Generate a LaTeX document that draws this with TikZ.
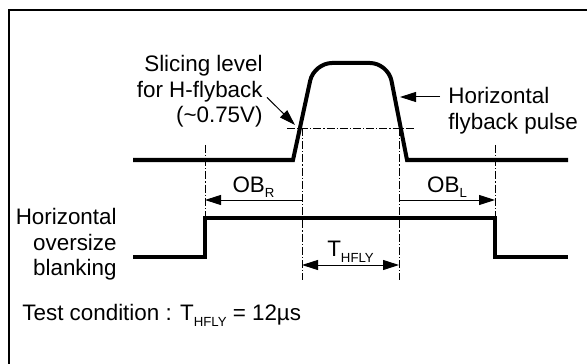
\documentclass[tikz,border=0pt]{standalone}
\usepackage{fontspec}
\setmainfont{Liberation Sans}
\usetikzlibrary{arrows.meta}
\newcommand{\lowsub}[2][3pt]{\raisebox{-#1}{\fontsize{6.6}{7}\selectfont #2}}
\tikzset{
  wave/.style={line width=2pt},
  guide/.style={line width=0.35pt, dash pattern=on 4pt off 1pt on 0.6pt off 1pt},
  dim/.style={line width=0.5pt, >={Triangle[length=8pt,width=5pt]}},
  lbl/.style={inner sep=0pt, font=\fontsize{11.2}{12.8}\selectfont}
}
\begin{document}
\begin{tikzpicture}[x=0.5pt,y=-0.5pt]
\useasboundingbox (0,0) rectangle (587,363);
\clip (0,0) rectangle (587,363);
% frame
\draw[line width=1.1pt] (9,380) -- (9,10) -- (600,10);

% flyback pulse
\coordinate (p0) at (133,160);
\coordinate (p1) at (293,160);
\coordinate (p2) at (314,63);
\coordinate (p3) at (388,63);
\coordinate (p4) at (407,160);
\coordinate (p5) at (568,160);
\draw[wave] (p0) -- (p1) [rounded corners=9pt] -- (p2) -- (p3) [sharp corners] -- (p4) -- (p5);

% oversize blanking
\coordinate (b0) at (133,257);
\coordinate (b1) at (205,257);
\coordinate (b2) at (205,218);
\coordinate (b3) at (495,218);
\coordinate (b4) at (495,257);
\coordinate (b5) at (568,257);
\draw[wave] (b0) -- (b1) -- (b2) -- (b3) -- (b4) -- (b5);

% slicing level and guides
\coordinate (s0) at (287,128);
\coordinate (s1) at (415,128);
\coordinate (sr) at (302,128);
\coordinate (sf) at (399,128);
\coordinate (gl) at (205,145);
\coordinate (gr) at (495,145);
\draw[guide] (s0) -- (s1);
\draw[guide] (sr) -- (302,280);
\draw[guide] (sf) -- (399,280);
\draw[guide] (gl) -- (b2);
\draw[guide] (gr) -- (b3);

% widths
\draw[dim,->] (302,200) -- (205,200) node[midway, lbl, anchor=base, yshift=4pt]{OB\lowsub[2.6pt]{R}};
\draw[dim,->] (399,200) -- (495,200) node[midway, lbl, anchor=base, yshift=4pt]{OB\lowsub[2.6pt]{L}};
\draw[dim,<->] (302,265) -- (399,265) node[midway, lbl, anchor=base, yshift=4.5pt]{T\lowsub{HFLY}};

% labels
\node[lbl, align=right, anchor=north east] (slice) at (263,55) {Slicing level\\for H-flyback\\(\textasciitilde 0.75V)};
\node[lbl, align=left, anchor=north west] (flyback) at (448,87) {Horizontal\\flyback pulse};
\node[lbl, align=right, anchor=north east] (blank) at (117,208) {Horizontal\\oversize\\blanking};
\node[lbl, anchor=base west] (test) at (22,320) {Test condition : T\lowsub{HFLY} = 12µs};
\coordinate (hit) at (295,125);
\coordinate (edge) at (400,97);
\draw[dim,->] ([shift={(4,6)}]slice.east) -- (hit);
\draw[dim,->] ([shift={(-8,10)}]flyback.north west) -- (edge);
\end{tikzpicture}
\end{document}
